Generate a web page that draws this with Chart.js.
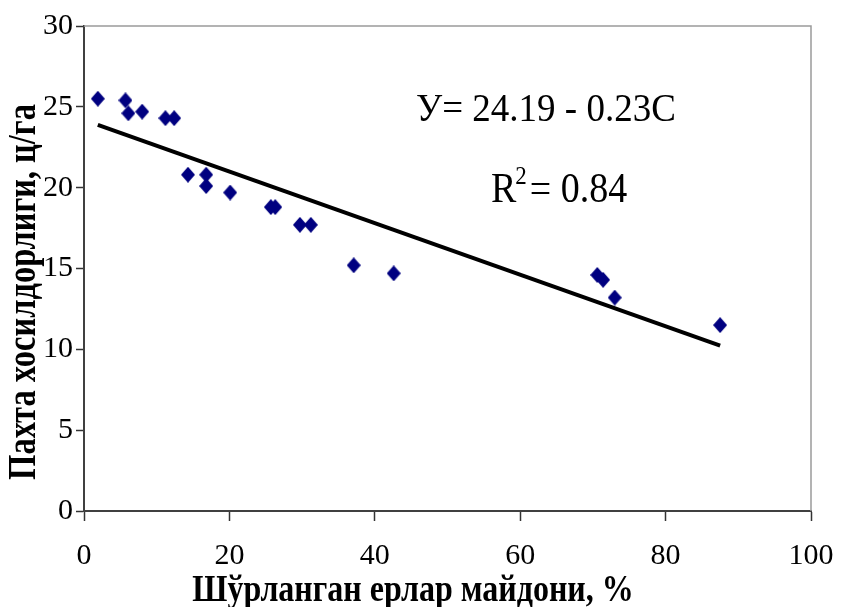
<!DOCTYPE html>
<html>
<head>
<meta charset="utf-8">
<script src="https://cdn.jsdelivr.net/npm/chart.js@4.4.1/dist/chart.umd.min.js"></script>
<style>
  html, body { margin: 0; padding: 0; background: #ffffff; }
  #wrap { width: 841px; height: 607px; position: relative; }
</style>
</head>
<body>
<div id="wrap"><canvas id="c" width="841" height="607"></canvas></div>
<script>
// Data
const salinizedArea = [1.9, 5.7, 6.1, 8.0, 11.2, 12.4, 14.3, 16.8, 16.8, 20.1, 25.7, 26.3, 29.7, 31.2, 37.1, 42.6, 70.6, 71.4, 73.0, 87.5];
const cottonYield   = [25.5, 25.4, 24.6, 24.7, 24.3, 24.3, 20.8, 20.8, 20.1, 19.7, 18.8, 18.8, 17.7, 17.7, 15.2, 14.7, 14.6, 14.3, 13.2, 11.5];
const xTicks = [0, 20, 40, 60, 80, 100];
const yTicks = [0, 5, 10, 15, 20, 25, 30];
const xTitle = 'Шўрланган ерлар майдони, %';
const yTitle = 'Пахта хосилдорлиги, ц/га';
const equationText = 'У= 24.19 - 0.23C';
const r2Label = 'R';
const r2Sup = '2';
const r2Value = '= 0.84';

// Build scatter points
const points = salinizedArea.map((x, i) => ({ x: x, y: cottonYield[i] }));

// Least-squares linear trendline over the data (like the spreadsheet trendline)
const n = salinizedArea.length;
const mx = salinizedArea.reduce((a, b) => a + b, 0) / n;
const my = cottonYield.reduce((a, b) => a + b, 0) / n;
let sxy = 0, sxx = 0;
for (let i = 0; i < n; i++) {
  sxy += (salinizedArea[i] - mx) * (cottonYield[i] - my);
  sxx += (salinizedArea[i] - mx) * (salinizedArea[i] - mx);
}
const slope = sxy / sxx;
const intercept = my - slope * mx;
const xMin = Math.min(...salinizedArea), xMax = Math.max(...salinizedArea);
const trend = [
  { x: xMin, y: intercept + slope * xMin },
  { x: xMax, y: intercept + slope * xMax }
];

const FONT = '"Liberation Serif", "Times New Roman", serif';

// Diamond marker (slightly taller than wide, as in the reference)
const diamond = document.createElement('canvas');
diamond.width = 14; diamond.height = 16;
(function () {
  const g = diamond.getContext('2d');
  g.fillStyle = '#000080';
  g.beginPath();
  g.moveTo(7, 0); g.lineTo(14, 8); g.lineTo(7, 16); g.lineTo(0, 8);
  g.closePath(); g.fill();
})();

const decor = {
  id: 'decor',
  beforeDatasetsDraw(chart) {
    const { ctx, chartArea: a } = chart;
    ctx.save();
    ctx.strokeStyle = '#9a9a9a';
    ctx.lineWidth = 1.5;
    ctx.beginPath();
    ctx.moveTo(a.left, a.top);
    ctx.lineTo(a.right, a.top);
    ctx.lineTo(a.right, a.bottom);
    ctx.stroke();
    ctx.restore();
  },
  afterDraw(chart) {
    const { ctx } = chart;
    ctx.save();
    ctx.fillStyle = '#000';
    ctx.textAlign = 'center';
    ctx.textBaseline = 'middle';

    // X axis title
    ctx.save();
    ctx.font = 'bold 32px ' + FONT;
    ctx.translate(413, 591);
    ctx.scale(1, 1.2);
    ctx.fillText(xTitle, 0, 0);
    ctx.restore();

    // Y axis title
    ctx.save();
    ctx.font = 'bold 32.5px ' + FONT;
    ctx.translate(25, 292);
    ctx.rotate(-Math.PI / 2);
    ctx.scale(1, 1.2);
    ctx.fillText(yTitle, 0, 0);
    ctx.restore();

    // Equation annotation
    ctx.textAlign = 'left';
    ctx.textBaseline = 'alphabetic';
    ctx.save();
    ctx.translate(416, 121);
    ctx.scale(1, 1.1);
    ctx.font = '37px ' + FONT;
    ctx.fillText(equationText, 0, 0);
    ctx.restore();

    ctx.save();
    ctx.translate(491, 202);
    ctx.scale(1, 1.1);
    ctx.font = '38px ' + FONT;
    ctx.fillText(r2Label, 0, 0);
    const rw = ctx.measureText(r2Label).width;
    ctx.font = '23px ' + FONT;
    ctx.fillText(r2Sup, rw - 1, -16);
    const sw = ctx.measureText(r2Sup).width;
    ctx.font = '38px ' + FONT;
    ctx.fillText(r2Value, rw + sw + 2, 0);
    ctx.restore();

    ctx.restore();
  }
};

new Chart(document.getElementById('c'), {
  type: 'scatter',
  data: {
    datasets: [
      {
        label: 'data',
        data: points,
        pointStyle: diamond,
        pointRadius: 7,
        pointHoverRadius: 7,
        backgroundColor: '#000080',
        borderColor: '#000080',
        borderWidth: 0,
        order: 1
      },
      {
        label: 'trend',
        data: trend,
        type: 'line',
        showLine: true,
        borderColor: '#000000',
        borderWidth: 4,
        pointRadius: 0,
        fill: false,
        order: 2
      }
    ]
  },
  options: {
    responsive: false,
    animation: false,
    events: [],
    layout: { padding: { top: 26, right: 30, bottom: 0, left: 0 } },
    plugins: {
      legend: { display: false },
      tooltip: { enabled: false },
      title: { display: false }
    },
    scales: {
      x: {
        type: 'linear',
        min: 0, max: 100,
        afterBuildTicks(axis) { axis.ticks = xTicks.map(v => ({ value: v })); },
        afterFit(axis) {
          axis.height = 96;
          axis.paddingLeft = 0;
          axis.paddingRight = 0;
        },
        ticks: {
          color: '#000',
          font: { family: FONT, size: 30 },
          padding: 17,
          maxRotation: 0,
          autoSkip: false
        },
        grid: {
          display: true,
          drawOnChartArea: false,
          drawTicks: true,
          tickLength: 10,
          tickWidth: 1.5,
          tickColor: '#333'
        },
        border: { display: true, color: '#404040', width: 2 },
        title: { display: false, text: xTitle }
      },
      y: {
        type: 'linear',
        min: 0, max: 30,
        afterBuildTicks(axis) { axis.ticks = yTicks.map(v => ({ value: v })); },
        afterFit(axis) {
          axis.width = 84;
          axis.paddingTop = 0;
          axis.paddingBottom = 0;
        },
        ticks: {
          color: '#000',
          font: { family: FONT, size: 30 },
          padding: 3
        },
        grid: {
          display: true,
          drawOnChartArea: false,
          drawTicks: true,
          tickLength: 8,
          tickWidth: 1.5,
          tickColor: '#333'
        },
        border: { display: true, color: '#404040', width: 2 },
        title: { display: false, text: yTitle }
      }
    }
  },
  plugins: [decor]
});
</script>
</body>
</html>
